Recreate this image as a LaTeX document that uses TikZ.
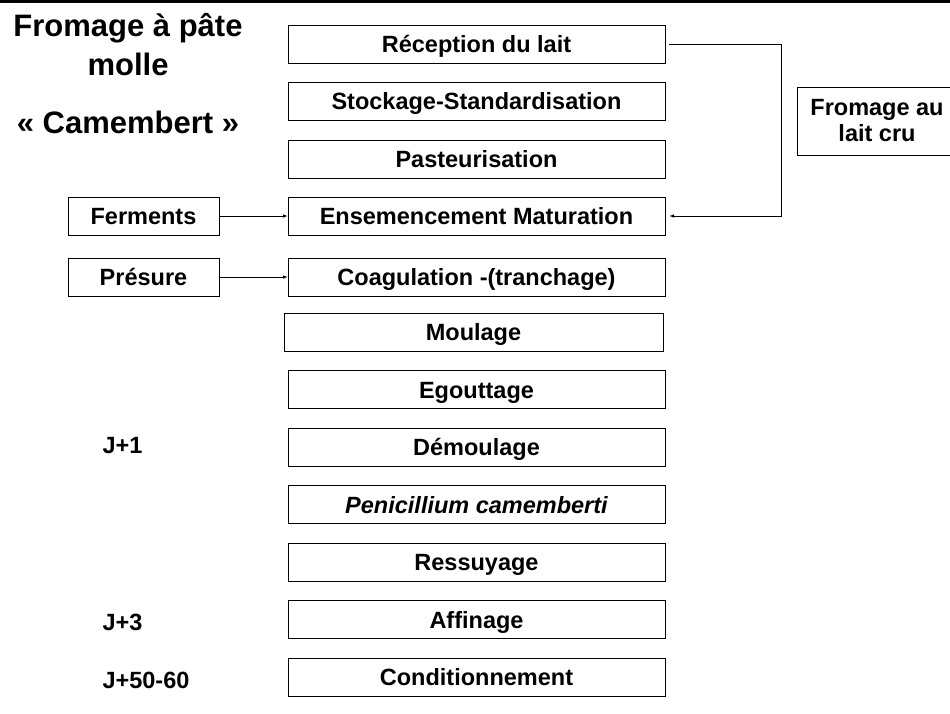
\documentclass[tikz,border=0pt]{standalone}
\usepackage{fontspec}
\setmainfont{Liberation Sans}
\usepackage{tikz}
\tikzset{
  stepbox/.style={draw, line width=0.8pt, minimum width=377pt, minimum height=38pt, inner sep=0pt, text height=17pt, text depth=0pt, font=\fontsize{23.5}{26}\selectfont\bfseries},
  sidebox/.style={stepbox, minimum width=151pt},
  daylabel/.style={anchor=base west, font=\fontsize{23.5}{26}\selectfont\bfseries},
  titlelabel/.style={anchor=base, font=\fontsize{31}{34}\selectfont\bfseries},
}
\begin{document}
\begin{tikzpicture}[x=1pt,y=-1pt]
  \useasboundingbox (0,0) rectangle (950,713);
  \draw[line width=3pt] (0,1.5) -- (950,1.5);
  % titre
  \node[titlelabel] (titre1) at (128,36) {Fromage à pâte};
  \node[titlelabel] (titre2) at (128,75) {molle};
  \node[titlelabel] (titre3) at (128,133) {« Camembert »};
  % etapes
  \node[stepbox] (recep) at (476.5,44) {Réception du lait};
  \node[stepbox] (stock) at (476.5,101) {Stockage-Standardisation};
  \node[stepbox] (pasteur) at (476.5,159) {Pasteurisation};
  \node[stepbox] (ensem) at (476.5,216) {Ensemencement Maturation};
  \node[stepbox] (coag) at (476.5,277) {Coagulation -(tranchage)};
  \node[stepbox, minimum width=379pt] (moul) at (473.5,332) {Moulage};
  \node[stepbox] (egout) at (476.5,389.5) {Egouttage};
  \node[stepbox] (demoul) at (476.5,447) {Démoulage};
  \node[stepbox] (penic) at (476.5,504.5) {\itshape Penicillium camemberti};
  \node[stepbox] (ressuy) at (476.5,562) {Ressuyage};
  \node[stepbox] (affin) at (476.5,619.5) {Affinage};
  \node[stepbox] (condit) at (476.5,677) {Conditionnement};
  % entrees
  \node[sidebox] (ferm) at (143.5,216) {Ferments};
  \node[sidebox] (presure) at (143.5,277) {Présure};
  \draw[-latex, line width=0.6pt] (ferm) -- (ensem);
  \draw[-latex, line width=0.6pt] (presure) -- (coag);
  % lait cru
  \node[stepbox, minimum width=160pt, minimum height=68pt, text height=, text depth=, align=center] (cru) at (877,121) {Fromage au\\lait cru};
  \draw[-latex, line width=0.6pt, shorten <=4pt, shorten >=4pt] (recep.east) -- ++(116,0) |- (ensem.east);
  % jours
  \node[daylabel] (j1) at (99,453) {J+1};
  \node[daylabel] (j3) at (99,630) {J+3};
  \node[daylabel] (j50) at (99,688) {J+50-60};
\end{tikzpicture}
\end{document}
